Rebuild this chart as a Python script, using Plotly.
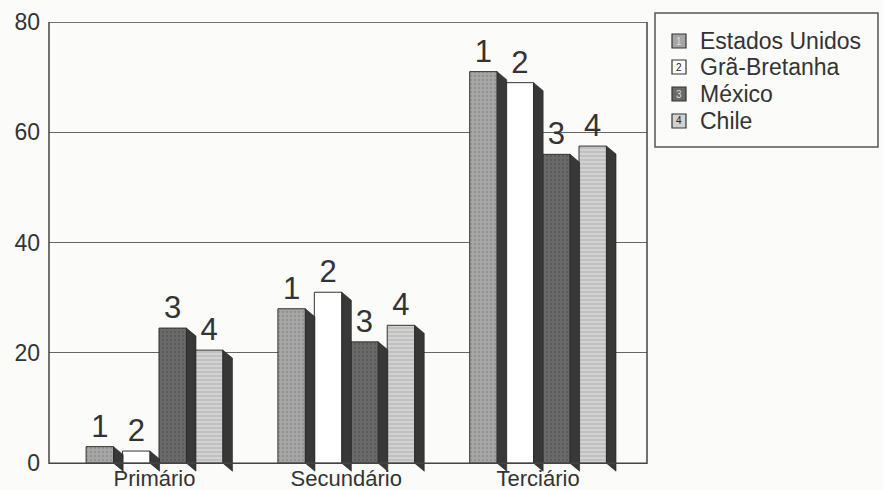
import plotly.graph_objects as go

categories = ["Primário", "Secundário", "Terciário"]
series_names = ["Estados Unidos", "Grã-Bretanha", "México", "Chile"]
series_labels = ["1", "2", "3", "4"]
estados_unidos = [3, 28, 71]
gra_bretanha = [2.2, 31, 69]
mexico = [24.5, 22, 56]
chile = [20.5, 25, 57.5]
y_ticks = [0, 20, 40, 60, 80]

values = [estados_unidos, gra_bretanha, mexico, chile]

face_colors = ["#a6a6a6", "#ffffff", "#6a6a6a", "#d2d2d2"]
pattern_shapes = [".", "", ".", "-"]
pattern_fg = ["#7a7a7a", "#ffffff", "#4a4a4a", "#8a8a8a"]

FONT = "Liberation Sans, Arial"
bar_w = 0.143
stride = 0.19
offsets = [-1.5 * stride, -0.5 * stride, 0.5 * stride, 1.5 * stride]
dx = 0.05
dy = 1.45

# pixel geometry of the plot area
PL, PR, PT, PB = 49, 647, 22, 472
PW, PH = PR - PL, PB - PT


def px_x(px):
    return (px - PL) / PW


def px_y(py):
    return 1 - (py - PT) / PH


fig = go.Figure()
xs_cat = list(range(len(categories)))

for i, name in enumerate(series_names):
    fig.add_trace(go.Bar(
        x=[c + offsets[i] for c in xs_cat],
        y=values[i],
        width=bar_w,
        name=name,
        text=[series_labels[i]] * len(categories),
        textposition="outside",
        constraintext="none",
        cliponaxis=False,
        textfont=dict(family=FONT, size=31, color="#333333"),
        marker=dict(
            color=face_colors[i],
            line=dict(color="#333333", width=1),
            pattern=dict(shape=pattern_shapes[i], fgcolor=pattern_fg[i],
                         bgcolor=face_colors[i], size=4, solidity=0.25),
        ),
        showlegend=False,
        hoverinfo="skip",
    ))

for i, name in enumerate(series_names):
    sx, sy = [], []
    for c, v in zip(xs_cat, values[i]):
        xr = c + offsets[i] + bar_w / 2
        sx += [xr, xr + dx, xr + dx, xr, xr, None]
        sy += [v, v - dy, -dy, 0, v, None]
    fig.add_trace(go.Scatter(
        x=sx, y=sy, mode="lines", fill="toself",
        fillcolor="#383838", line=dict(color="#222222", width=0.6),
        showlegend=False, hoverinfo="skip",
    ))

# plot frame
fig.add_shape(type="rect", xref="paper", yref="y", x0=0, x1=1, y0=0, y1=80,
              line=dict(color="#444444", width=1.5), layer="above")

# legend (box, swatches with numbers, names)
fig.add_shape(type="rect", xref="paper", yref="paper",
              x0=px_x(655), x1=px_x(878), y0=px_y(147), y1=px_y(13),
              line=dict(color="#555555", width=1.5))
row_y = [41, 67, 94, 121]
for i, name in enumerate(series_names):
    cy = row_y[i]
    fig.add_shape(type="rect", xref="paper", yref="paper",
                  x0=px_x(672), x1=px_x(686), y0=px_y(cy + 7), y1=px_y(cy - 7),
                  fillcolor=face_colors[i], line=dict(color="#333333", width=1.2))
    fig.add_annotation(xref="paper", yref="paper", x=px_x(679), y=px_y(cy),
                       text=series_labels[i], showarrow=False,
                       font=dict(family=FONT, size=10,
                                 color="#222222" if i in (1, 3) else "#dddddd"),
                       xanchor="center", yanchor="middle")
    fig.add_annotation(xref="paper", yref="paper", x=px_x(698), y=px_y(cy),
                       text=name, showarrow=False,
                       font=dict(family=FONT, size=23, color="#333333"),
                       xanchor="left", yanchor="middle")

fig.update_layout(
    width=883, height=490,
    margin=dict(l=PL, r=883 - PR, t=PT, b=490 - PB),
    paper_bgcolor="#fbfbf9",
    plot_bgcolor="#fbfbf9",
    font=dict(family=FONT, size=23, color="#333333"),
    barmode="overlay",
    showlegend=False,
    xaxis=dict(
        range=[-0.55, 2.568],
        tickvals=xs_cat, ticktext=categories,
        showgrid=False, zeroline=False, showline=False,
        ticks="", tickfont=dict(size=22), automargin=False,
        ticklabelstandoff=-9,
    ),
    yaxis=dict(
        range=[-1.6, 80],
        tickvals=y_ticks,
        showgrid=True, gridcolor="#666666", gridwidth=1,
        zeroline=False, showline=False, automargin=False,
        ticks="", ticklabelstandoff=8, tickfont=dict(size=23),
    ),
)

fig.write_html("out.html")
